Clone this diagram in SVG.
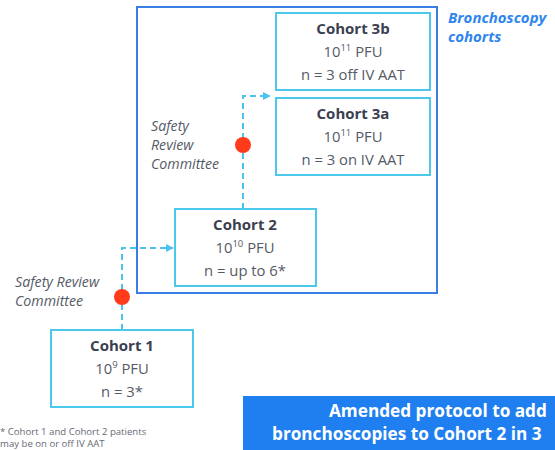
<svg xmlns="http://www.w3.org/2000/svg" width="555" height="450" viewBox="0 0 555 450">
<defs>
<marker id="ah" viewBox="0 0 10 10" refX="9" refY="5" markerWidth="8" markerHeight="8" markerUnits="userSpaceOnUse" orient="auto"><path d="M0,0 L10,5 L0,10 z" fill="#4cc3ee"/></marker>
<style>
.box{fill:#fff;stroke:#4cc8ea;stroke-width:2}
.t{font-family:"Open Sans","Liberation Sans",sans-serif;text-anchor:middle;fill:#3b4050}
.h{font-size:15px;font-weight:bold}
.b{font-size:14.8px;fill:#555a66}
.sup{font-size:9.5px}
.it{font-family:"Open Sans","Liberation Sans",sans-serif;font-style:italic;font-size:14.2px;fill:#555a66}
.conn{fill:none;stroke:#4cc3ee;stroke-width:2;stroke-dasharray:6,4}
.dot{fill:#ff3b1c}
.bn{font-family:"Open Sans","Liberation Sans",sans-serif;font-size:17.2px;font-weight:bold;fill:#fff}
.fn{font-family:"Open Sans","Liberation Sans",sans-serif;font-size:9.6px;fill:#666b75}
.bc{font-family:"Open Sans","Liberation Sans",sans-serif;font-size:15px;font-weight:bold;font-style:italic;fill:#2f86ee}
</style>
</defs>
<rect x="0" y="0" width="555" height="450" fill="#fff"/>
<rect id="bronch-frame" x="137" y="7" width="300" height="286" fill="none" stroke="#3a7fe6" stroke-width="2"/>
<text class="bc" x="448" y="23">Bronchoscopy</text>
<text class="bc" x="448" y="42">cohorts</text>
<g id="connectors">
<path class="conn" d="M122,330 V248 H173" marker-end="url(#ah)"/>
<path class="conn" d="M243,209 V96 H270" marker-end="url(#ah)"/>
<circle class="dot" cx="122" cy="297" r="8"/>
<circle class="dot" cx="243" cy="145" r="8"/>
</g>
<g id="src1">
<text class="it" x="15" y="287">Safety Review</text>
<text class="it" x="15" y="306">Committee</text>
</g>
<g id="src2">
<text class="it" x="151" y="131">Safety</text>
<text class="it" x="151" y="150">Review</text>
<text class="it" x="151" y="169">Committee</text>
</g>
<g id="cohort3b">
<rect class="box" x="276" y="13" width="154" height="77"/>
<text class="t h" x="353" y="34">Cohort 3b</text>
<text class="t b" x="353" y="57">10<tspan class="sup" dy="-6">11</tspan><tspan dy="6"> PFU</tspan></text>
<text class="t b" x="353" y="80">n = 3 off IV AAT</text>
</g>
<g id="cohort3a">
<rect class="box" x="276" y="98" width="154" height="77"/>
<text class="t h" x="353" y="119">Cohort 3a</text>
<text class="t b" x="353" y="142">10<tspan class="sup" dy="-6">11</tspan><tspan dy="6"> PFU</tspan></text>
<text class="t b" x="353" y="165">n = 3 on IV AAT</text>
</g>
<g id="cohort2">
<rect class="box" x="175" y="209" width="141" height="77"/>
<text class="t h" x="245" y="230">Cohort 2</text>
<text class="t b" x="245" y="253">10<tspan class="sup" dy="-6">10</tspan><tspan dy="6"> PFU</tspan></text>
<text class="t b" x="245" y="276">n = up to 6*</text>
</g>
<g id="cohort1">
<rect class="box" x="51" y="330" width="142" height="77"/>
<text class="t h" x="122" y="351">Cohort 1</text>
<text class="t b" x="122" y="374">10<tspan class="sup" dy="-6">9</tspan><tspan dy="6"> PFU</tspan></text>
<text class="t b" x="122" y="397">n = 3*</text>
</g>
<g id="footnote">
<text class="fn" x="0" y="435">* Cohort 1 and Cohort 2 patients</text>
<text class="fn" x="0" y="447">may be on or off IV AAT</text>
</g>
<g id="banner">
<rect x="243" y="396" width="320" height="60" fill="#1f7ff0"/>
<text class="bn" x="329" y="417">Amended protocol to add</text>
<text class="bn" x="272" y="440">bronchoscopies to Cohort 2 in 3</text>
</g>
</svg>
